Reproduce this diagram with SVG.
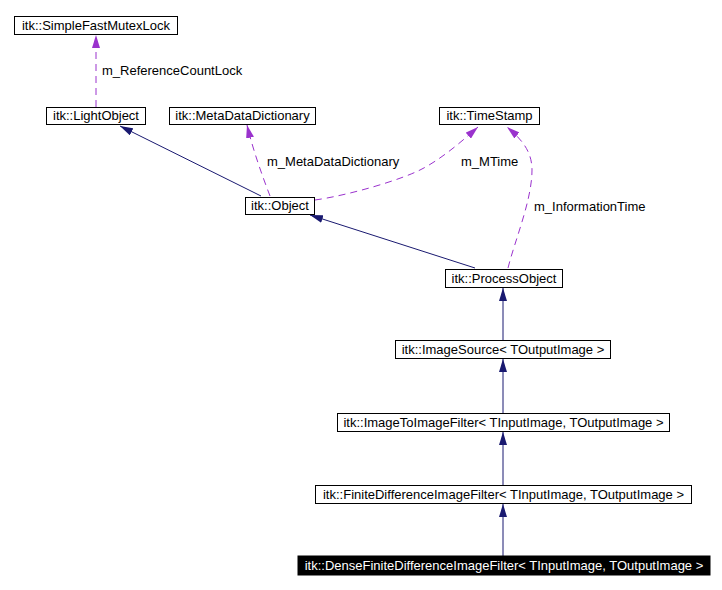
<svg xmlns="http://www.w3.org/2000/svg" width="722" height="590" viewBox="0 0 722 590">
<style>
text{font-family:"Liberation Sans",Arial,sans-serif;font-size:13px;fill:#000}
.n rect{fill:#fff;stroke:#000;stroke-width:1}
.n text{text-anchor:middle}
.inh{fill:none;stroke:#191970;stroke-width:1;marker-end:url(#ah)}
.use{fill:none;stroke:#9a32cd;stroke-width:1;stroke-dasharray:7,5;marker-end:url(#ap)}
#dense rect{fill:#000}
#dense text{fill:#fff}
</style>
<defs>
<marker id="ah" viewBox="0 0 13 8" refX="13" refY="4" markerWidth="13" markerHeight="8" markerUnits="userSpaceOnUse" orient="auto"><path d="M0,0 L13,4 L0,8 z" fill="#191970"/></marker>
<marker id="ap" viewBox="0 0 13 8" refX="13" refY="4" markerWidth="13" markerHeight="8" markerUnits="userSpaceOnUse" orient="auto"><path d="M0,0 L13,4 L0,8 z" fill="#9a32cd"/></marker>
</defs>
<rect width="722" height="590" fill="#fff"/>
<g id="edges">
<path class="use" d="M96,107 L96,35"/>
<text x="102" y="75">m_ReferenceCountLock</text>
<path class="inh" d="M261,196 L120,126"/>
<path class="use" d="M270,196 C262,175 253,150 247,125"/>
<text x="267" y="166">m_MetaDataDictionary</text>
<path class="use" d="M315,200 C350,195 400,180 420,170 C440,160 460,143 478,127"/>
<text x="461" y="166">m_MTime</text>
<path class="use" d="M508,268 C515,240 532,200 532,170 C532,150 520,138 507,127"/>
<text x="534" y="211">m_InformationTime</text>
<path class="inh" d="M475,268 L310,215"/>
<path class="inh" d="M503,340 L503,288"/>
<path class="inh" d="M503,413 L503,359"/>
<path class="inh" d="M503,485 L503,432"/>
<path class="inh" d="M503,556 L503,504"/>
</g>
<g id="sfml" class="n"><rect x="14.5" y="16.5" width="163" height="18"/><text x="96" y="30">itk::SimpleFastMutexLock</text></g>
<g id="lightobject" class="n"><rect x="46.5" y="107.5" width="99" height="17"/><text x="96" y="120">itk::LightObject</text></g>
<g id="mdd" class="n"><rect x="169.5" y="107.5" width="146" height="17"/><text x="242.5" y="120">itk::MetaDataDictionary</text></g>
<g id="timestamp" class="n"><rect x="439.5" y="107.5" width="100" height="17"/><text x="489.5" y="120">itk::TimeStamp</text></g>
<g id="object" class="n"><rect x="245.5" y="197.5" width="69" height="17"/><text x="280" y="210">itk::Object</text></g>
<g id="processobject" class="n"><rect x="445.5" y="269.5" width="117" height="18"/><text x="504" y="283">itk::ProcessObject</text></g>
<g id="imagesource" class="n"><rect x="395.5" y="340.5" width="215" height="18"/><text x="503" y="354">itk::ImageSource&lt; TOutputImage &gt;</text></g>
<g id="itoi" class="n"><rect x="337.5" y="413.5" width="332" height="18"/><text x="503.5" y="427">itk::ImageToImageFilter&lt; TInputImage, TOutputImage &gt;</text></g>
<g id="fdif" class="n"><rect x="315.5" y="485.5" width="376" height="18"/><text x="503.5" y="499">itk::FiniteDifferenceImageFilter&lt; TInputImage, TOutputImage &gt;</text></g>
<g id="dense" class="n"><rect x="298" y="556" width="412" height="19"/><text x="504" y="570">itk::DenseFiniteDifferenceImageFilter&lt; TInputImage, TOutputImage &gt;</text></g>
</svg>
